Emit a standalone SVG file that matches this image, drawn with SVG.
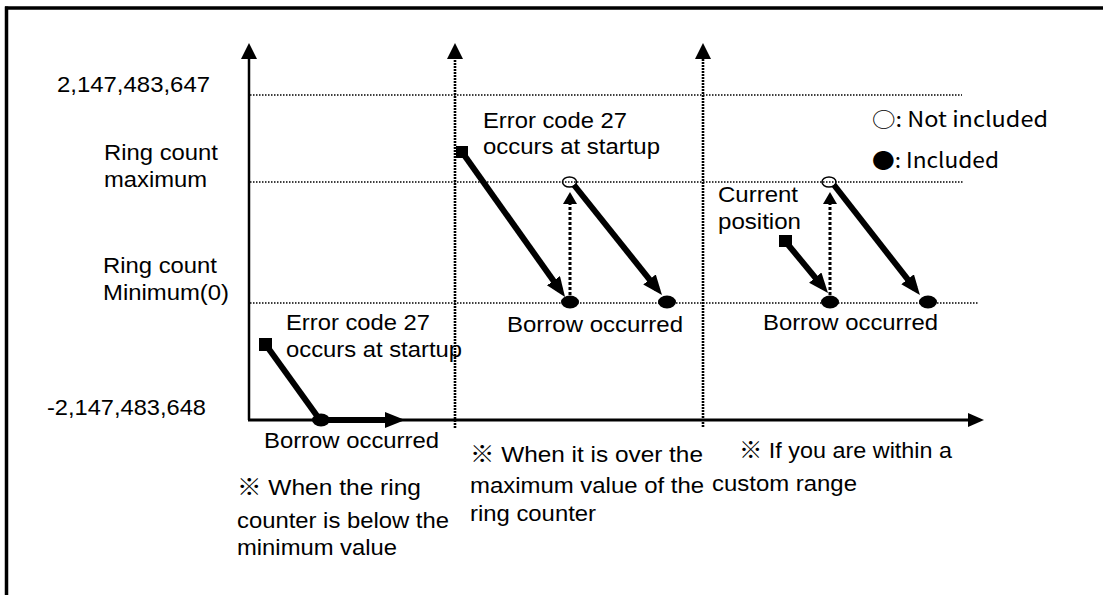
<svg xmlns="http://www.w3.org/2000/svg" width="1103" height="595" viewBox="0 0 1103 595">
<style>
text{font-family:"Liberation Sans","Noto Sans CJK KR",Arial,sans-serif;font-size:22.5px;fill:#000}
.leg{font-family:"Noto Sans CJK KR","Noto Sans",sans-serif;font-size:21px}
.thick{stroke:#000;stroke-width:6;fill:none}
.hdot{stroke:#000;stroke-width:1.4;stroke-dasharray:1.5 1.5;fill:none}
.vdot{stroke:#000;stroke-width:2.6;stroke-dasharray:2 1;fill:none}
.up{stroke:#000;stroke-width:3;stroke-dasharray:3 2;fill:none}
.dot{fill:#000}
.open{fill:none;stroke:#000;stroke-width:1.5}
.sq{fill:#000}
</style>
<defs>
<marker id="ah" markerUnits="userSpaceOnUse" markerWidth="22" markerHeight="18" refX="12" refY="8" orient="auto">
<path d="M0,0 L20,8 L0,16 z" fill="#000"/>
</marker>
<marker id="axv" markerUnits="userSpaceOnUse" markerWidth="18" markerHeight="18" refX="10" refY="8" orient="auto">
<path d="M0,0 L16,8 L0,16 z" fill="#000"/>
</marker>
<marker id="axh" markerUnits="userSpaceOnUse" markerWidth="18" markerHeight="16" refX="10" refY="7" orient="auto">
<path d="M0,0 L16,7 L0,14 z" fill="#000"/>
</marker>
<marker id="upm" markerUnits="userSpaceOnUse" markerWidth="14" markerHeight="16" refX="6" refY="7" orient="auto">
<path d="M0,0 L12,7 L0,14 z" fill="#000"/>
</marker>
</defs>
<rect width="1103" height="595" fill="#fff"/>
<g id="frame">
<line x1="6.5" y1="6.5" x2="6.5" y2="595" stroke="#000" stroke-width="3.5"/>
<line x1="5" y1="8" x2="1103" y2="8" stroke="#000" stroke-width="3.5"/>
</g>
<g id="axes">
<line x1="249" y1="420" x2="249" y2="49" stroke="#000" stroke-width="2.5" marker-end="url(#axv)"/>
<line x1="248" y1="420" x2="978" y2="420" stroke="#000" stroke-width="3" marker-end="url(#axh)"/>
<line x1="455" y1="428" x2="455" y2="49" class="vdot" marker-end="url(#axv)"/>
<line x1="703" y1="427" x2="703" y2="49" class="vdot" marker-end="url(#axv)"/>
<line x1="250" y1="95" x2="962" y2="95" class="hdot"/>
<line x1="250" y1="182" x2="963" y2="182" class="hdot"/>
<line x1="250" y1="303" x2="978" y2="303" class="hdot"/>
</g>
<g id="connectors">
<line x1="266" y1="345" x2="320" y2="420" class="thick"/>
<line x1="320" y1="420" x2="397" y2="420" class="thick" marker-end="url(#ah)"/>
<line x1="462" y1="152" x2="560.4" y2="290.5" class="thick" marker-end="url(#ah)"/>
<line x1="570" y1="300" x2="570" y2="198" class="up" marker-end="url(#upm)"/>
<line x1="574" y1="185" x2="657" y2="288.8" class="thick" marker-end="url(#ah)"/>
<line x1="785" y1="241" x2="822.9" y2="286.8" class="thick" marker-end="url(#ah)"/>
<line x1="830" y1="300" x2="830" y2="198" class="up" marker-end="url(#upm)"/>
<line x1="834" y1="185" x2="915" y2="288.7" class="thick" marker-end="url(#ah)"/>
</g>
<g id="markers">
<rect x="259" y="338" width="13" height="13" class="sq"/>
<rect x="456" y="146" width="12" height="12" class="sq"/>
<rect x="779" y="235" width="13" height="12" class="sq"/>
<ellipse cx="321" cy="420" rx="9" ry="6.5" class="dot"/>
<ellipse cx="570" cy="302" rx="9" ry="6.5" class="dot"/>
<ellipse cx="667" cy="302" rx="9" ry="6.5" class="dot"/>
<ellipse cx="830" cy="302" rx="9" ry="6.5" class="dot"/>
<ellipse cx="928" cy="302" rx="9" ry="6.5" class="dot"/>
<ellipse cx="569.5" cy="182" rx="7" ry="5" class="open"/>
<ellipse cx="829" cy="182" rx="7" ry="5" class="open"/>
</g>
<g id="ylabels">
<text x="57" y="92" textLength="153" lengthAdjust="spacingAndGlyphs">2,147,483,647</text>
<text x="104" y="160" textLength="114" lengthAdjust="spacingAndGlyphs">Ring count</text>
<text x="104" y="187" textLength="103" lengthAdjust="spacingAndGlyphs">maximum</text>
<text x="103" y="273" textLength="114" lengthAdjust="spacingAndGlyphs">Ring count</text>
<text x="103" y="300" textLength="126" lengthAdjust="spacingAndGlyphs">Minimum(0)</text>
<text x="47" y="415" textLength="159" lengthAdjust="spacingAndGlyphs">-2,147,483,648</text>
</g>
<g id="case1">
<text x="286" y="330" textLength="144" lengthAdjust="spacingAndGlyphs">Error code 27</text>
<text x="286" y="357" textLength="176" lengthAdjust="spacingAndGlyphs">occurs at startup</text>
<text x="264" y="448" textLength="175" lengthAdjust="spacingAndGlyphs">Borrow occurred</text>
<text x="237" y="495" textLength="184" lengthAdjust="spacingAndGlyphs">※  When the ring</text>
<text x="237" y="528" textLength="212" lengthAdjust="spacingAndGlyphs">counter is below the</text>
<text x="237" y="555" textLength="160" lengthAdjust="spacingAndGlyphs">minimum value</text>
</g>
<g id="case2">
<text x="483" y="128" textLength="144" lengthAdjust="spacingAndGlyphs">Error code 27</text>
<text x="483" y="154" textLength="177" lengthAdjust="spacingAndGlyphs">occurs at startup</text>
<text x="507" y="332" textLength="176" lengthAdjust="spacingAndGlyphs">Borrow occurred</text>
<text x="470" y="462" textLength="233" lengthAdjust="spacingAndGlyphs">※  When it is over the</text>
<text x="470" y="493" textLength="234" lengthAdjust="spacingAndGlyphs">maximum value of the</text>
<text x="470" y="521" textLength="126" lengthAdjust="spacingAndGlyphs">ring counter</text>
</g>
<g id="case3">
<text x="718" y="202" textLength="80" lengthAdjust="spacingAndGlyphs">Current</text>
<text x="718" y="229" textLength="83" lengthAdjust="spacingAndGlyphs">position</text>
<text x="763" y="330" textLength="175" lengthAdjust="spacingAndGlyphs">Borrow occurred</text>
<text x="739" y="458" textLength="213" lengthAdjust="spacingAndGlyphs">※ If you are within a</text>
<text x="712" y="491" textLength="145" lengthAdjust="spacingAndGlyphs">custom range</text>
</g>
<g id="legend">
<text class="leg" x="872" y="127" textLength="176" lengthAdjust="spacingAndGlyphs">○: Not included</text>
<text class="leg" x="872" y="168" textLength="127" lengthAdjust="spacingAndGlyphs">●: Included</text>
</g>
</svg>
